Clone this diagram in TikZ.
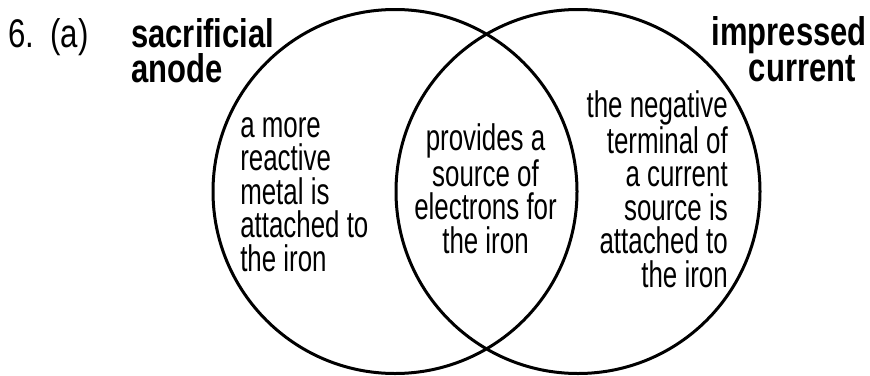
\documentclass[tikz,border=0pt]{standalone}
\usepackage{fontspec}
\setmainfont[FakeStretch=0.78]{Liberation Sans}
\newfontfamily\headfont[FakeStretch=0.775]{Liberation Sans}
\newfontfamily\bodyfont[FakeStretch=0.70]{Liberation Sans}

\tikzset{
  venn/.style={draw, circle, line width=2.25pt, minimum size=273pt, inner sep=0pt},
  headtext/.style={font=\headfont\bfseries\fontsize{30}{27}\selectfont, inner sep=0pt},
  numtext/.style={font=\fontsize{30}{27}\selectfont, inner sep=0pt},
  bodytext/.style={font=\bodyfont\fontsize{27.75}{25.1}\selectfont, inner sep=0pt}
}

\begin{document}
\begin{tikzpicture}[x=0.75pt, y=-0.75pt]

    % 1. Kich thuoc trang (theo pixel cua hinh goc, truc y huong xuong)
    \useasboundingbox (0,0) rectangle (870,375);

    % Tam hai duong tron
    \coordinate (L) at (395, 191.5);
    \coordinate (R) at (578, 191.5);

    % 2. Hai duong tron cua so do Venn
    \node[venn] (sac) at (L) {};
    \node[venn] (imp) at (R) {};

    % 3. So thu tu cau hoi va tieu de
    \node[numtext, anchor=base west] (num) at (8, 47) {6.};
    \node[numtext, anchor=base west] (part) at (50, 47) {(a)};
    \node[headtext, anchor=base west] (sacA) at (131, 47) {sacrificial};
    \node[headtext, anchor=base west] (sacB) at (131, 82) {anode};
    \node[headtext, anchor=base east] (impA) at (867, 45) {impressed};
    \node[headtext, anchor=base east] (impB) at (856, 81) {current};

    % 4. Noi dung trong tung mien (neo o dong cuoi)
    \node[bodytext, align=left, anchor=base west] (left) at (240, 271)
        {a more\\reactive\\metal is\\attached to\\the iron};
    \node[bodytext, align=center, anchor=base] (mid) at (485.5, 253)
        {provides a\\source of\\electrons for\\the iron};
    \node[bodytext, align=right, anchor=base east] (right) at (728, 287)
        {the negative\\terminal of\\a current\\source is\\attached to\\the iron};

\end{tikzpicture}
\end{document}
